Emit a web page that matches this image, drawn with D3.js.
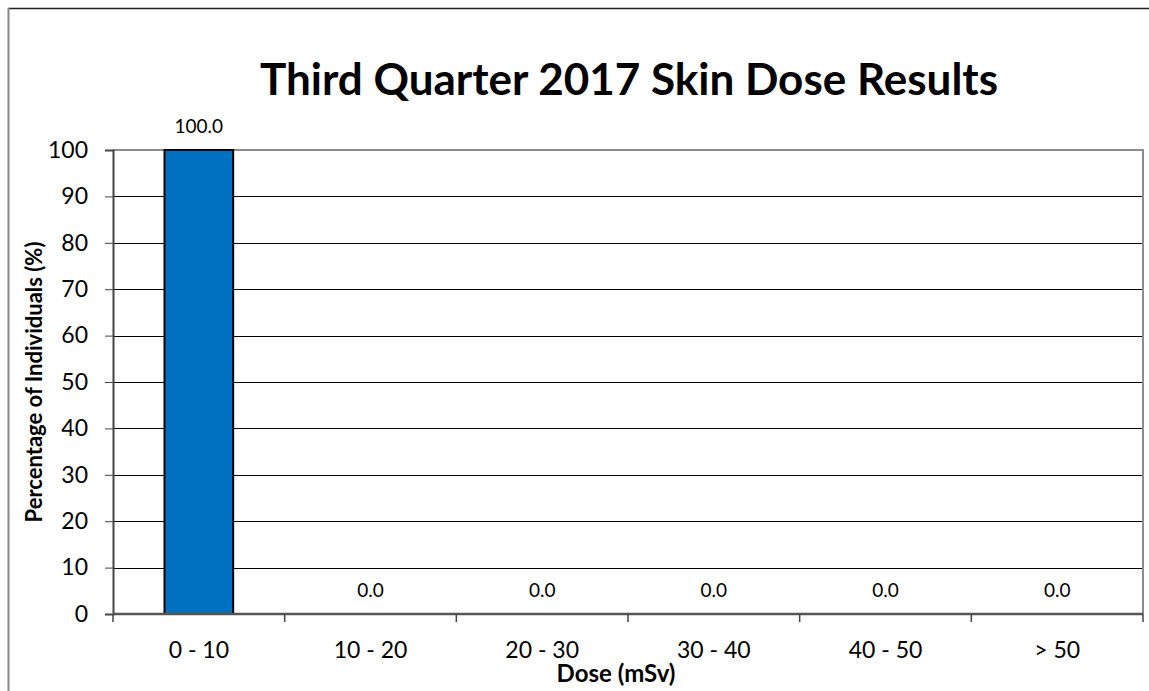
<!DOCTYPE html>
<html>
<head>
<meta charset="utf-8">
<script src="https://cdn.jsdelivr.net/npm/d3@7"></script>
<style>
  body { margin: 0; background: #fff; }
  svg { display: block; font-family: Lato, "Open Sans", sans-serif; }
</style>
</head>
<body>
<div id="chart"></div>
<script>
// chart data
const categories = ['0 - 10', '10 - 20', '20 - 30', '30 - 40', '40 - 50', '> 50'];
const percentages = [100.0, 0.0, 0.0, 0.0, 0.0, 0.0];
const yTicks = [0, 10, 20, 30, 40, 50, 60, 70, 80, 90, 100];

const width = 1149, height = 691;
const margin = {top: 150, right: 6, bottom: 77, left: 113};

const svg = d3.select('#chart').append('svg')
    .attr('width', width)
    .attr('height', height);

// outer chart border (runs off the right and bottom edge)
svg.append('line').attr('x1', 8).attr('x2', width).attr('y1', 8.5).attr('y2', 8.5)
    .attr('stroke', '#222').attr('stroke-width', 1.5);
svg.append('line').attr('x1', 8.5).attr('x2', 8.5).attr('y1', 8).attr('y2', height)
    .attr('stroke', '#888').attr('stroke-width', 2);

const x = d3.scaleBand()
    .domain(categories)
    .range([margin.left, width - margin.right])
    .paddingInner(0.6)
    .paddingOuter(0.3);

const y = d3.scaleLinear()
    .domain([0, 100])
    .range([height - margin.bottom, margin.top]);

const plotLeft = margin.left, plotRight = width - margin.right;
const step = (plotRight - plotLeft) / categories.length;

// title
svg.append('text')
    .attr('x', 629).attr('y', 95)
    .attr('text-anchor', 'middle')
    .style('font-weight', 'bold')
    .style('font-size', '44px')
    .text('Third Quarter 2017 Skin Dose Results');

// gridlines
svg.append('g')
    .selectAll('line')
    .data(yTicks.filter(d => d > 0 && d < 100))
    .join('line')
    .attr('x1', plotLeft).attr('x2', plotRight)
    .attr('y1', d => Math.round(y(d)) + 0.5).attr('y2', d => Math.round(y(d)) + 0.5)
    .attr('stroke', '#000').attr('stroke-width', 1);

// plot area border top/right
svg.append('path')
    .attr('d', `M${plotLeft},${y(100)}H${plotRight}V${y(0)}`)
    .attr('fill', 'none').attr('stroke', '#8c8c8c').attr('stroke-width', 2);

// bars
svg.append('g')
    .selectAll('rect')
    .data(percentages)
    .join('rect')
    .attr('x', (d, i) => x(categories[i]))
    .attr('width', x.bandwidth())
    .attr('y', d => y(d))
    .attr('height', d => y(0) - y(d))
    .attr('fill', '#0070c0')
    .attr('stroke', '#000')
    .attr('stroke-width', d => d > 0 ? 2 : 0);

// data labels
svg.append('g')
    .selectAll('text')
    .data(percentages)
    .join('text')
    .attr('x', (d, i) => x(categories[i]) + x.bandwidth() / 2)
    .attr('y', d => y(d) - 17)
    .attr('text-anchor', 'middle')
    .style('font-size', '19px')
    .text(d => d.toFixed(1));

// y axis
const yAxis = svg.append('g')
    .attr('transform', `translate(${plotLeft},0)`)
    .call(d3.axisLeft(y).tickValues(yTicks).tickSize(8).tickPadding(17));
yAxis.select('.domain').attr('stroke', '#444').attr('stroke-width', 2);
yAxis.selectAll('.tick line').attr('stroke', '#444');
yAxis.selectAll('.tick text')
    .style('font-size', '23px')
    .style('font-family', 'Lato, sans-serif')
    .attr('fill', '#000');

// x axis: ticks between categories
const xAxisG = svg.append('g');
xAxisG.append('line')
    .attr('x1', plotLeft).attr('x2', plotRight)
    .attr('y1', y(0)).attr('y2', y(0))
    .attr('stroke', '#555').attr('stroke-width', 2.5);
xAxisG.selectAll('line.tick')
    .data(d3.range(categories.length + 1))
    .join('line')
    .attr('class', 'tick')
    .attr('x1', i => plotLeft + i * step).attr('x2', i => plotLeft + i * step)
    .attr('y1', y(0)).attr('y2', y(0) + 8)
    .attr('stroke', '#444').attr('stroke-width', 1.5);
xAxisG.selectAll('text')
    .data(categories)
    .join('text')
    .attr('x', d => x(d) + x.bandwidth() / 2)
    .attr('y', 658)
    .attr('text-anchor', 'middle')
    .style('font-size', '23px')
    .text(d => d);

// axis titles
svg.append('text')
    .attr('x', 616).attr('y', 682)
    .attr('text-anchor', 'middle')
    .style('font-weight', 'bold')
    .style('font-size', '24px')
    .text('Dose (mSv)');

svg.append('text')
    .attr('transform', `translate(42,${(y(0) + y(100)) / 2}) rotate(-90)`)
    .attr('text-anchor', 'middle')
    .style('font-weight', 'bold')
    .style('font-size', '22px')
    .text('Percentage of Individuals (%)');
</script>
</body>
</html>
